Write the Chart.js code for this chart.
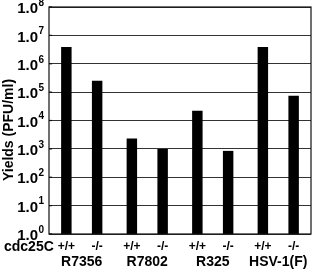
<!DOCTYPE html>
<html>
<head>
<meta charset="utf-8">
<script src="https://cdn.jsdelivr.net/npm/chart.js@4/dist/chart.umd.min.js"></script>
<style>
  html, body { margin: 0; padding: 0; background: #fff; }
  #wrap { position: relative; width: 316px; height: 270px; }
</style>
</head>
<body>
<div id="wrap"><canvas id="yieldChart"></canvas></div>
<script>
// Virus groups and yields (PFU/ml)
const groups = ['R7356', 'R7802', 'R325', 'HSV-1(F)'];
const genotypes = ['+/+', '-/-'];
const wildTypeYields = [3.9e6, 2.3e3, 2.2e4, 3.9e6];
const knockoutYields = [2.5e5, 1.0e3, 8.5e2, 7.5e4];
const tickExponents = [0, 1, 2, 3, 4, 5, 6, 7, 8];

const FONT = '"Liberation Sans", Arial, Helvetica, sans-serif';

// Draws the "1.0^n" tick labels, frame, axis title and genotype rows
const labelPlugin = {
  id: 'labels',
  afterDraw(chart) {
    const ctx = chart.ctx;
    const area = chart.chartArea;
    const y = chart.scales.y;
    ctx.save();
    ctx.fillStyle = '#000';

    // frame
    ctx.strokeStyle = '#111';
    ctx.lineWidth = 1.2;
    ctx.strokeRect(area.left, area.top, area.right - area.left, area.bottom - area.top);

    // y tick labels
    tickExponents.forEach((e) => {
      const py = y.getPixelForValue(Math.pow(10, e));
      ctx.font = 'bold 15px ' + FONT;
      ctx.textAlign = 'right';
      ctx.textBaseline = 'middle';
      ctx.fillText('1.0', area.left - 11, py + 2);
      ctx.font = 'bold 10px ' + FONT;
      ctx.textAlign = 'left';
      ctx.fillText(String(e), area.left - 10.5, py - 4);
      // small inward tick
      ctx.beginPath();
      ctx.moveTo(area.left, py);
      ctx.lineTo(area.left + 3, py);
      ctx.stroke();
    });

    // y axis title
    ctx.save();
    ctx.translate(9, 130);
    ctx.rotate(-Math.PI / 2);
    ctx.font = 'bold 14px ' + FONT;
    ctx.textAlign = 'center';
    ctx.textBaseline = 'middle';
    ctx.fillText('Yields (PFU/ml)', 0, 0);
    ctx.restore();

    // genotype row
    ctx.font = 'bold 14px ' + FONT;
    ctx.textAlign = 'left';
    ctx.textBaseline = 'middle';
    ctx.fillText('cdc25C', 4, 247);
    ctx.font = 'bold 12px ' + FONT;
    ctx.textAlign = 'center';
    chart.data.datasets.forEach((ds, i) => {
      chart.getDatasetMeta(i).data.forEach((bar) => {
        ctx.fillText(genotypes[i], bar.x, 247);
      });
    });

    // group names
    ctx.font = 'bold 14px ' + FONT;
    const meta0 = chart.getDatasetMeta(0).data;
    const meta1 = chart.getDatasetMeta(1).data;
    groups.forEach((g, k) => {
      const cx = (meta0[k].x + meta1[k].x) / 2;
      ctx.fillText(g, cx, 262);
    });
    ctx.restore();
  }
};

new Chart(document.getElementById('yieldChart'), {
  type: 'bar',
  data: {
    labels: groups,
    datasets: [
      { label: genotypes[0], data: wildTypeYields, backgroundColor: '#000' },
      { label: genotypes[1], data: knockoutYields, backgroundColor: '#000' }
    ]
  },
  options: {
    responsive: true,
    maintainAspectRatio: false,
    animation: false,
    layout: { padding: { left: 49, right: 5, top: 7, bottom: 36 } },
    datasets: { bar: { categoryPercentage: 0.94, barPercentage: 0.34 } },
    plugins: { legend: { display: false }, tooltip: { enabled: false } },
    scales: {
      x: {
        ticks: { display: false },
        grid: { display: false, drawTicks: false },
        border: { display: false }
      },
      y: {
        type: 'logarithmic',
        min: 1,
        max: 1e8,
        afterBuildTicks: (scale) => {
          scale.ticks = tickExponents.map((e) => ({ value: Math.pow(10, e) }));
        },
        ticks: { display: false },
        grid: { color: '#333', lineWidth: 1, drawTicks: false },
        border: { display: false }
      }
    }
  },
  plugins: [labelPlugin]
});
</script>
</body>
</html>
